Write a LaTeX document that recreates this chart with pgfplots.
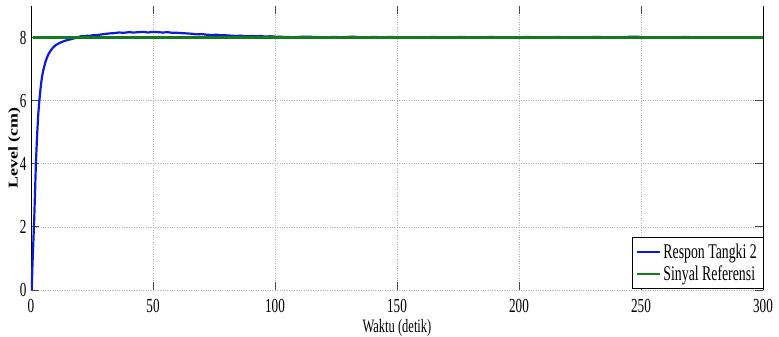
\documentclass[border=0pt]{standalone}
\usepackage{pgfplots}
\pgfplotsset{compat=1.18}
\usepackage{fontspec}
\setmainfont{Liberation Serif}
\newfontfamily\narrow[FakeStretch=0.66]{Liberation Serif}
\definecolor{mblue}{rgb}{0.05,0.1,0.86}
\definecolor{mgreen}{rgb}{0.08,0.48,0.12}
\begin{document}
\begin{tikzpicture}
\begin{axis}[
  name=ax,
  scale only axis,
  width=732bp, height=284bp,
  xmin=0, xmax=300, ymin=0, ymax=9,
  xtick={0,50,...,300}, ytick={0,2,...,8},
  separate axis lines,
  x axis line style={draw=none},
  y axis line style={draw=black, line width=0.7pt},
  tickpos=both, tick align=inside,
  major tick length=8bp,
  tick style={gray!60!black, line width=0.8pt},
  grid=major,
  major grid style={dotted, gray!60, line width=0.7pt},
  tick label style={font=\narrow\fontsize{20}{20}\selectfont},
  /pgf/number format/assume math mode=true,
  xlabel={Waktu (detik)},
  ylabel={\scalebox{1}[0.75]{\fontsize{18}{18}\selectfont\bfseries Level (cm)}},
  xlabel style={font=\narrow\fontsize{19}{19}\selectfont, at={(rel axis cs:0.5,0)}, anchor=north, yshift=-26bp},
  ylabel style={at={(rel axis cs:0,0.5)}, anchor=south, yshift=7bp},
  xticklabel style={yshift=-6bp},
  yticklabel style={xshift=-1bp},
  legend style={at={(rel axis cs:1,0)}, anchor=south east, yshift=2bp, font=\narrow\fontsize{21}{21}\selectfont, draw=black, inner sep=4pt, row sep=2pt, legend cell align=left},
  legend image code/.code={\draw[#1] (0bp,0bp) -- (23bp,0bp);},
]
\addplot[color=mblue, line width=2.2pt] coordinates {
(0.3,0) (0.6,0.8) (1,1.6) (1.3,2.2) (1.7,3.2) (2,4.0) (2.5,4.9) (3,5.6) (3.5,6.05) (4,6.45) (4.5,6.75) (5,6.95) (6,7.25) (7,7.45) (8,7.58) (9,7.68) (10,7.75) (11,7.8) (12,7.84) (13,7.87) (14,7.9) (15,7.92) (16,7.94) (17,7.96) (18,7.98) (19,8.0) (20,8.03) (21,8.05) (22,8.04) (23,8.06) (24,8.05) (25,8.07) (26,8.08) (27,8.07) (28,8.09) (29,8.1) (30,8.11) (32,8.13) (34,8.14) (36,8.16) (38,8.15) (40,8.17) (42,8.16) (44,8.17) (46,8.18) (48,8.16) (50,8.18) (52,8.17) (54,8.16) (56,8.17) (58,8.15) (60,8.15) (62,8.14) (64,8.13) (66,8.12) (68,8.1) (70,8.11) (72,8.09) (74,8.08) (76,8.09) (78,8.07) (80,8.07) (82,8.06) (84,8.05) (86,8.06) (88,8.04) (90,8.05) (92,8.04) (94,8.05) (96,8.03) (98,8.04) (100,8.03)
(104,8.02) (108,8.01) (112,8.03) (116,8.02) (120,8.0) (124,8.02) (128,8.01) (132,8.03) (136,8.0) (140,8.02) (144,8.01) (148,8.02) (152,8.0) (156,8.01) (160,7.99) (164,8.02) (168,8.01) (172,8.0) (176,8.02) (180,8.01) (184,8.0) (188,8.02) (192,8.01) (196,7.99) (200,8.01) (204,8.02) (208,8.0) (212,8.01) (216,8.02) (220,8.0) (224,7.99) (228,8.01) (232,8.02) (236,8.01) (240,8.0) (244,8.02) (248,8.03) (252,8.0) (256,7.99) (260,8.01) (264,8.0) (268,8.02) (272,8.01) (276,8.0) (280,7.99) (284,8.01) (288,8.0) (292,8.01) (296,8.0) (300,8.01)
};
\addlegendentry{Respon Tangki 2}
\addplot[color=mgreen, line width=2.4pt] coordinates {(0.8,8) (300,8)};
\addlegendentry{Sinyal Referensi}
\end{axis}
\pgfresetboundingbox
\path[use as bounding box] ([xshift=-31bp,yshift=-47bp]ax.south west) rectangle ([xshift=16bp,yshift=6bp]ax.north east);
\end{tikzpicture}
\end{document}
